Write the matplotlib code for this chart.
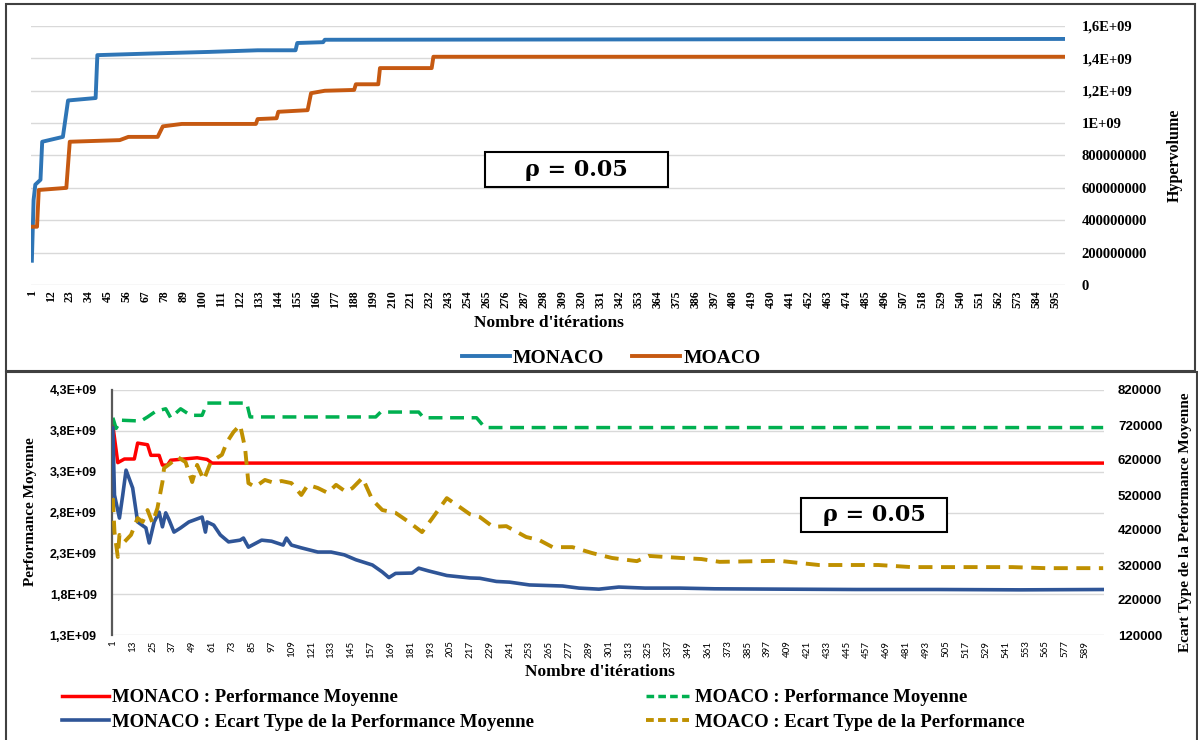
import numpy as np
import matplotlib.pyplot as plt
from matplotlib.lines import Line2D
from matplotlib.patches import Rectangle

# ---------------- top chart : hypervolume (values in 1e9) ----------------
hv_monaco_it = [1, 2, 3, 6, 7, 13, 19, 22, 38, 39, 70, 104, 132, 154, 155, 170, 171, 600]
hv_monaco = [0.15, 0.525, 0.62, 0.65, 0.885, 0.9, 0.915, 1.14, 1.155, 1.42, 1.43, 1.44,
             1.45, 1.45, 1.495, 1.5, 1.515, 1.52]
hv_moaco_it = [1, 4, 5, 21, 23, 52, 57, 74, 77, 88, 131, 132, 143, 144, 161, 163, 171,
               188, 189, 202, 203, 233, 234, 600]
hv_moaco = [0.36, 0.36, 0.587, 0.6, 0.885, 0.895, 0.915, 0.915, 0.98, 0.995, 0.995, 1.025,
            1.03, 1.07, 1.08, 1.185, 1.2, 1.205, 1.24, 1.24, 1.34, 1.34, 1.41, 1.41]
hv_ticks = [0, 0.2e9, 0.4e9, 0.6e9, 0.8e9, 1.0e9, 1.2e9, 1.4e9, 1.6e9]
hv_ticklabels = ['0', '200000000', '400000000', '600000000', '800000000',
                 '1E+09', '1,2E+09', '1,4E+09', '1,6E+09']
top_xticks = list(range(1, 596, 11))

# ---------------- bottom chart : mean performance (1e9) and std (1e3) ----------------
perf_monaco_it = [1, 4, 8, 14, 16, 22, 24, 29, 31, 34, 36, 52, 58, 61, 600]
perf_monaco = [3.87, 3.41, 3.455, 3.455, 3.65, 3.63, 3.5, 3.5, 3.38, 3.38, 3.44, 3.47,
               3.45, 3.405, 3.405]
perf_moaco_it = [1, 3, 6, 18, 22, 27, 33, 36, 42, 48, 55, 58, 82, 84, 160, 163, 186, 189,
                 221, 226, 600]
perf_moaco = [3.96, 3.83, 3.93, 3.92, 3.97, 4.04, 4.07, 3.96, 4.07, 3.99, 3.99, 4.14, 4.14,
              3.97, 3.97, 4.03, 4.03, 3.96, 3.96, 3.84, 3.84]
std_monaco_it = [1, 2, 5, 7, 9, 13, 16, 21, 23, 26, 29, 31, 33, 35, 38, 42, 47, 55, 57, 58,
                 62, 66, 71, 78, 80, 83, 91, 97, 104, 106, 109, 115, 125, 133, 141, 148,
                 158, 164, 168, 172, 182, 186, 192, 203, 217, 223, 233, 241, 253, 273, 283,
                 295, 307, 323, 344, 365, 405, 450, 500, 550, 600]
std_monaco = [711, 520, 454, 520, 591, 540, 443, 426, 383, 443, 471, 429, 469, 449, 414, 426,
              443, 457, 414, 443, 434, 406, 386, 391, 397, 371, 391, 388, 377, 397, 377, 369,
              357, 357, 349, 335, 320, 300, 284, 296, 297, 311, 303, 290, 283, 282, 273, 271,
              263, 260, 254, 251, 257, 254, 254, 252, 251, 250, 250, 249, 250]
std_moaco_it = [1, 2, 4, 5, 8, 12, 16, 19, 22, 25, 28, 31, 32, 36, 40, 45, 49, 52, 56, 60,
                64, 67, 70, 74, 78, 81, 83, 87, 93, 99, 103, 109, 115, 119, 125, 131, 136,
                142, 146, 152, 158, 164, 172, 180, 188, 194, 203, 211, 217, 223, 231, 239,
                251, 259, 267, 279, 291, 303, 318, 325, 345, 357, 368, 404, 428, 464, 484,
                545, 565, 600]
std_moaco = [511, 414, 343, 406, 386, 406, 454, 443, 477, 440, 483, 557, 597, 611, 629, 614,
             557, 606, 563, 611, 626, 635, 671, 700, 720, 654, 554, 543, 563, 554, 560, 554,
             520, 549, 540, 526, 549, 529, 540, 569, 506, 477, 469, 443, 414, 452, 511, 485,
             465, 457, 429, 431, 400, 391, 371, 371, 354, 340, 331, 346, 340, 337, 329, 332,
             320, 320, 314, 314, 311, 311]
perf_ticks = [1.3e9, 1.8e9, 2.3e9, 2.8e9, 3.3e9, 3.8e9, 4.3e9]
perf_ticklabels = ['1,3E+09', '1,8E+09', '2,3E+09', '2,8E+09', '3,3E+09', '3,8E+09', '4,3E+09']
std_ticks = [120000, 220000, 320000, 420000, 520000, 620000, 720000, 820000]
bottom_xticks = list(range(1, 590, 12))

W, H = 1198, 740


def fx(x):
    return x / W


def fy(y):
    return 1 - y / H


serif = 'Liberation Serif'
grid_c = '#D9D9D9'

fig = plt.figure(figsize=(W / 100, H / 100), dpi=100)

# panel frames
fig.add_artist(Rectangle((fx(6), fy(371)), fx(1195 - 6), (371 - 4) / H, transform=fig.transFigure,
                         fill=False, ec='#404040', lw=1.5))
fig.add_artist(Rectangle((fx(6), fy(745)), fx(1197 - 6), (745 - 372) / H, transform=fig.transFigure,
                         fill=False, ec='#404040', lw=1.5))

# ---------------- top chart ----------------
ax1 = fig.add_axes([fx(31), fy(285), fx(1065 - 31), (285 - 26) / H])
ax1.plot(hv_monaco_it, np.array(hv_monaco) * 1e9, color='#2E75B6', lw=2.8)
ax1.plot(hv_moaco_it, np.array(hv_moaco) * 1e9, color='#C65911', lw=2.8)
ax1.set_xlim(0.5, 600.5)
ax1.set_ylim(0, 1.6e9)
ax1.yaxis.tick_right()
ax1.set_yticks(hv_ticks, hv_ticklabels, fontsize=10.5, fontweight='bold', family=serif)
ax1.set_xticks(top_xticks, [str(t) for t in top_xticks], rotation=90, fontsize=8.5,
               fontweight='bold', family=serif)
ax1.tick_params(axis='both', length=0)
ax1.tick_params(axis='y', pad=12)
ax1.tick_params(axis='x', pad=4)
ax1.grid(axis='y', color=grid_c, lw=1)
ax1.set_axisbelow(True)
for s in ax1.spines.values():
    s.set_visible(False)

fig.text(fx(1175), fy(155), 'Hypervolume', rotation=90, ha='center', va='center',
         fontsize=11.5, fontweight='bold', family=serif)
fig.text(fx(549), fy(323), "Nombre d'itérations", ha='center', va='center',
         fontsize=12.5, fontweight='bold', family=serif)

fig.add_artist(Rectangle((fx(485), fy(187)), fx(668 - 485), (187 - 152) / H,
                         transform=fig.transFigure, fc='white', ec='black', lw=1.5))
fig.text(fx(576), fy(170), 'ρ = 0.05', ha='center', va='center', fontsize=16,
         fontweight='bold', family='DejaVu Serif')

top_handles = [Line2D([], [], color='#2E75B6', lw=2.8), Line2D([], [], color='#C65911', lw=2.8)]
fig.legend(top_handles, ['MONACO', 'MOACO'], loc='center', bbox_to_anchor=(fx(611), fy(358)),
           ncol=2, frameon=False, handlelength=2.5, handletextpad=0.15, columnspacing=1.4,
           prop={'family': serif, 'weight': 'bold', 'size': 14})

# ---------------- bottom chart ----------------
ax2 = fig.add_axes([fx(112), fy(635), fx(1104 - 112), (635 - 390) / H])
ax2.plot(perf_monaco_it, np.array(perf_monaco) * 1e9, color='#FF0000', lw=2.5)
ax2.plot(perf_moaco_it, np.array(perf_moaco) * 1e9, color='#00B050', lw=2.5,
         dashes=(4.0, 2.2))
ax2.set_xlim(0.5, 600.5)
ax2.set_ylim(1.3e9, 4.3e9)
ax2.set_yticks(perf_ticks, perf_ticklabels, fontsize=9, fontweight='bold',
               family='Liberation Sans')
ax2.set_xticks(bottom_xticks, [str(t) for t in bottom_xticks], rotation=90, fontsize=7,
               family='Lato')
ax2.tick_params(axis='both', length=0)
ax2.tick_params(axis='y', pad=11)
ax2.tick_params(axis='x', pad=4)
ax2.grid(axis='y', color=grid_c, lw=1)
ax2.set_axisbelow(True)
for k, s in ax2.spines.items():
    s.set_visible(k == 'left')
ax2.spines['left'].set_color('#595959')
ax2.spines['left'].set_linewidth(1.6)

ax3 = ax2.twinx()
ax3.plot(std_monaco_it, np.array(std_monaco) * 1e3, color='#2F5597', lw=2.6)
ax3.plot(std_moaco_it, np.array(std_moaco) * 1e3, color='#BF9000', lw=2.8, dashes=(3.6, 2.2))
ax3.set_ylim(120000, 820000)
ax3.set_yticks(std_ticks, [str(t) for t in std_ticks], fontsize=9.5, fontweight='bold',
               family='Liberation Sans')
ax3.tick_params(axis='y', length=0, pad=10)
for s in ax3.spines.values():
    s.set_visible(False)

fig.text(fx(31), fy(512), 'Performance Moyenne', rotation=90, ha='center', va='center',
         fontsize=11, fontweight='bold', family=serif)
fig.text(fx(1185), fy(522), 'Ecart Type de la Performance Moyenne', rotation=90, ha='center',
         va='center', fontsize=11, fontweight='bold', family=serif)
fig.text(fx(600), fy(672), "Nombre d'itérations", ha='center', va='center',
         fontsize=12.5, fontweight='bold', family=serif)

fig.add_artist(Rectangle((fx(801), fy(532)), fx(947 - 801), (532 - 498) / H,
                         transform=fig.transFigure, fc='white', ec='black', lw=1.5))
fig.text(fx(874), fy(515), 'ρ = 0.05', ha='center', va='center', fontsize=16,
         fontweight='bold', family='DejaVu Serif')

leg_prop = {'family': serif, 'weight': 'bold', 'size': 13.5}
h_red = Line2D([], [], color='#FF0000', lw=2.5)
h_blue = Line2D([], [], color='#2F5597', lw=2.6)
h_green = Line2D([], [], color='#00B050', lw=2.5, dashes=(2.2, 1.2))
h_gold = Line2D([], [], color='#BF9000', lw=2.8, dashes=(2.0, 1.1))
fig.legend([h_red, h_blue], ['MONACO : Performance Moyenne',
                             'MONACO : Ecart Type de la Performance Moyenne'],
           loc='center left', bbox_to_anchor=(fx(62), fy(710)), frameon=False, borderpad=0,
           borderaxespad=0, handlelength=2.5, handletextpad=0.15, labelspacing=0.4, prop=leg_prop)
fig.legend([h_green, h_gold], ['MOACO : Performance Moyenne',
                               'MOACO : Ecart Type de la Performance'],
           loc='center left', bbox_to_anchor=(fx(646), fy(710)), frameon=False, borderpad=0,
           borderaxespad=0, handlelength=2.3, handletextpad=0.3, labelspacing=0.4, prop=leg_prop)

fig.savefig('out.png', dpi=100)
